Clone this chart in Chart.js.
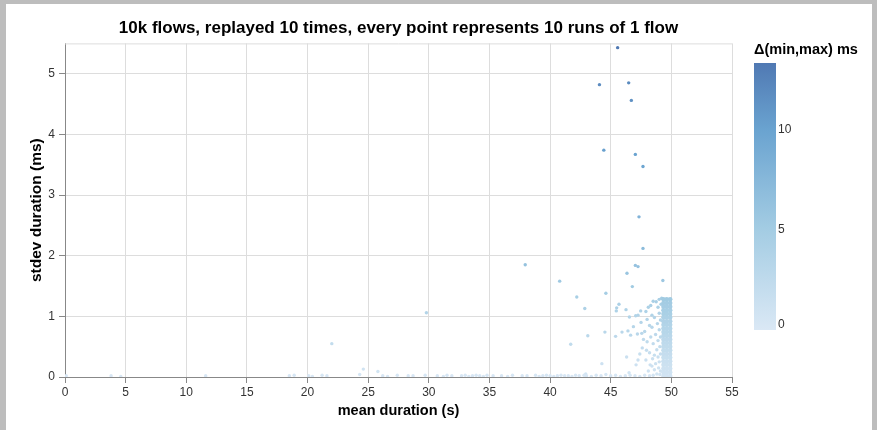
<!DOCTYPE html>
<html>
<head>
<meta charset="utf-8">
<script src="https://cdn.jsdelivr.net/npm/chart.js@4/dist/chart.umd.min.js"></script>
<style>
  html, body { margin: 0; padding: 0; background: #bdbdbd; width: 877px; height: 430px; overflow: hidden; }
  #wrap { position: absolute; left: 6px; top: 4px; width: 866px; height: 426px; background: #fff; }
</style>
</head>
<body>
<div id="wrap"><canvas id="chart" width="866" height="426"></canvas></div>
<script>
// mean duration (s), stdev duration (ms), Δ(min,max) ms  -- one entry per flow
const meanSec = [
  // outliers
  45.57, 44.07, 46.48, 46.70, 44.43, 47.03, 47.66, 47.33, 47.66, 47.03, 47.25, 46.34, 37.95, 40.79, 49.30,
  46.78, 44.60, 42.20, 42.86, 45.68, 45.49, 45.46, 46.26, 46.54, 47.06, 47.25, 47.47, 43.11, 41.70, 44.52,
  45.40, 45.93, 46.42, 46.64, 46.87, 47.20, 47.56, 44.27, 46.31, 47.25, 47.09, 46.51, 42.94, 29.80, 22.00,
  24.60, 25.80,
  // near zero
  0.1, 3.8, 4.6, 11.6, 18.5, 18.9, 20.1, 20.4, 21.2, 21.6, 24.3, 26.2, 26.6, 27.4, 28.3, 28.7, 29.7, 30.7,
  31.2, 31.5, 31.9, 32.7, 33.0, 33.3, 33.6, 33.9, 34.2, 34.5, 34.8, 35.3, 36.0, 36.5, 36.9, 37.7, 38.1, 38.8,
  39.1, 39.4, 39.7, 40.0, 40.3, 40.6, 40.9, 41.2, 41.5, 41.8, 42.1, 42.4, 42.8, 43.0, 43.4, 43.8, 44.2, 44.6,
  45.0, 45.4, 45.8, 46.2, 46.6, 47.0, 47.4, 47.8, 48.2,
  // scattered left of the cluster
  48.1, 47.9, 48.2, 47.6, 48.0, 48.3, 47.8, 48.2, 47.5, 48.0, 48.4, 47.9, 48.3, 48.5, 48.1, 47.7, 48.45, 47.4,
  48.25, 47.95,
  // cluster edge
  48.5, 48.8, 49.05, 48.6, 48.95, 49.1, 48.7, 49.0, 48.4, 48.9, 49.1, 48.6, 48.8, 49.05, 48.5, 48.9, 49.1, 48.7,
  49.0, 48.4, 48.85, 49.1, 48.6, 49.0, 48.9, 49.15, 49.0, 48.75, 49.2,
  // dense cluster
  49.35, 49.62, 49.9, 49.35, 49.62, 49.9, 49.35, 49.62, 49.9, 49.35, 49.62, 49.9, 49.35, 49.62, 49.9,
  49.35, 49.62, 49.9, 49.35, 49.62, 49.9, 49.35, 49.62, 49.9, 49.35, 49.62, 49.9, 49.35, 49.62, 49.9,
  49.35, 49.62, 49.9, 49.35, 49.62, 49.9, 49.35, 49.62, 49.9, 49.35, 49.62, 49.9, 49.35, 49.62, 49.9,
  49.35, 49.62, 49.9, 49.35, 49.62, 49.9, 49.35, 49.62, 49.9, 49.35, 49.62, 49.9, 49.35, 49.62, 49.9,
  49.35, 49.62, 49.9, 49.35, 49.62, 49.9
];
const stdevMs = [
  5.43, 4.82, 4.85, 4.56, 3.74, 3.67, 3.47, 2.64, 2.12, 1.84, 1.82, 1.71, 1.85, 1.58, 1.59,
  1.49, 1.38, 1.32, 1.13, 1.20, 1.14, 1.09, 1.11, 0.99, 1.01, 1.02, 1.09, 0.68, 0.54, 0.74,
  0.67, 0.74, 0.76, 0.69, 0.83, 0.71, 0.72, 0.22, 0.33, 0.28, 0.20, 0.07, 0.05, 1.06, 0.55,
  0.13, 0.09,
  0.02, 0.02, 0.01, 0.02, 0.02, 0.03, 0.02, 0.01, 0.03, 0.02, 0.04, 0.02, 0.01, 0.03, 0.02, 0.02, 0.03, 0.02,
  0.01, 0.03, 0.02, 0.02, 0.03, 0.01, 0.02, 0.03, 0.02, 0.01, 0.03, 0.02, 0.02, 0.01, 0.03, 0.02, 0.02, 0.03,
  0.01, 0.02, 0.03, 0.02, 0.01, 0.02, 0.03, 0.02, 0.02, 0.01, 0.03, 0.02, 0.03, 0.02, 0.01, 0.03, 0.02, 0.04,
  0.02, 0.03, 0.01, 0.02, 0.03, 0.02, 0.01, 0.03, 0.02,
  0.10, 0.28, 0.40, 0.48, 0.58, 0.66, 0.75, 0.85, 0.90, 0.95, 1.02, 1.08, 1.18, 1.25, 1.15, 0.62, 0.30, 0.38,
  0.20, 0.44,
  0.03, 0.05, 0.04, 0.12, 0.15, 0.10, 0.22, 0.25, 0.18, 0.33, 0.38, 0.36, 0.45, 0.50, 0.55, 0.60, 0.66, 0.70,
  0.78, 0.82, 0.88, 0.94, 0.98, 1.05, 1.15, 1.20, 1.28, 1.24, 1.30,
  0.02, 0.02, 0.02, 0.08, 0.08, 0.08, 0.14, 0.14, 0.14, 0.20, 0.20, 0.20, 0.26, 0.26, 0.26,
  0.32, 0.32, 0.32, 0.38, 0.38, 0.38, 0.44, 0.44, 0.44, 0.50, 0.50, 0.50, 0.56, 0.56, 0.56,
  0.62, 0.62, 0.62, 0.68, 0.68, 0.68, 0.74, 0.74, 0.74, 0.80, 0.80, 0.80, 0.86, 0.86, 0.86,
  0.92, 0.92, 0.92, 0.98, 0.98, 0.98, 1.04, 1.04, 1.04, 1.10, 1.10, 1.10, 1.16, 1.16, 1.16,
  1.22, 1.22, 1.22, 1.28, 1.28, 1.28
];
const rangeMs = [
  13.3, 11.8, 11.9, 11.3, 10.2, 10.0, 9.6, 8.0, 7.0, 6.2, 6.2, 5.9, 6.3, 5.4, 5.6,
  5.2, 4.9, 4.6, 4.1, 4.3, 4.1, 4.0, 4.0, 3.7, 3.7, 3.7, 3.9, 2.9, 2.4, 3.0,
  2.8, 3.0, 3.1, 2.9, 3.3, 3.0, 3.0, 1.2, 1.5, 1.4, 1.2, 0.8, 0.7, 3.6, 2.2,
  0.9, 0.8,
  0.3, 0.3, 0.2, 0.3, 0.3, 0.4, 0.3, 0.2, 0.4, 0.3, 0.4, 0.3, 0.2, 0.4, 0.3, 0.3, 0.4, 0.3,
  0.2, 0.4, 0.3, 0.3, 0.4, 0.2, 0.3, 0.4, 0.3, 0.2, 0.4, 0.3, 0.3, 0.2, 0.4, 0.3, 0.3, 0.4,
  0.2, 0.3, 0.4, 0.3, 0.2, 0.3, 0.4, 0.3, 0.3, 0.2, 0.4, 0.3, 0.4, 0.3, 0.2, 0.4, 0.3, 0.4,
  0.3, 0.4, 0.2, 0.3, 0.4, 0.3, 0.2, 0.4, 0.3,
  1.0, 1.4, 1.8, 2.1, 2.4, 2.6, 3.0, 3.3, 3.4, 3.6, 3.8, 4.0, 4.3, 4.5, 4.2, 2.5, 1.5, 1.7,
  1.2, 1.9,
  0.7, 0.8, 0.7, 1.0, 1.1, 1.0, 1.3, 1.4, 1.2, 1.6, 1.8, 1.7, 2.0, 2.2, 2.3, 2.5, 2.7, 2.8,
  3.1, 3.2, 3.4, 3.6, 3.7, 3.9, 4.2, 4.4, 4.6, 4.5, 4.7,
  0.7, 0.7, 0.7, 0.9, 0.9, 0.9, 1.1, 1.1, 1.1, 1.3, 1.3, 1.3, 1.5, 1.5, 1.5,
  1.7, 1.7, 1.7, 1.9, 1.9, 1.9, 2.2, 2.2, 2.2, 2.4, 2.4, 2.4, 2.6, 2.6, 2.6,
  2.8, 2.8, 2.8, 3.0, 3.0, 3.0, 3.3, 3.3, 3.3, 3.5, 3.5, 3.5, 3.7, 3.7, 3.7,
  3.9, 3.9, 3.9, 4.1, 4.1, 4.1, 4.4, 4.4, 4.4, 4.6, 4.6, 4.6, 4.8, 4.8, 4.8,
  5.0, 5.0, 5.0, 5.2, 5.2, 5.2
];
const denseCount = 66; // last entries form the packed block near 50 s
const xTicks = [0, 5, 10, 15, 20, 25, 30, 35, 40, 45, 50, 55];
const yTicks = [0, 1, 2, 3, 4, 5];
const legendTicks = [0, 5, 10];
const rangeMax = 13.3;

const colorStops = [[0, '#dae8f5'], [0.38, '#a3cce3'], [0.75, '#6aa3d0'], [1, '#5079b3']];

function hexRgb(h) {
  return [parseInt(h.slice(1, 3), 16), parseInt(h.slice(3, 5), 16), parseInt(h.slice(5, 7), 16)];
}
function colorFor(v) {
  const t = Math.max(0, Math.min(1, v / rangeMax));
  for (let i = 1; i < colorStops.length; i++) {
    if (t <= colorStops[i][0]) {
      const [t0, c0] = colorStops[i - 1];
      const [t1, c1] = colorStops[i];
      const f = (t - t0) / (t1 - t0);
      const a = hexRgb(c0), b = hexRgb(c1);
      return 'rgb(' + a.map((x, k) => Math.round(x + (b[k] - x) * f)).join(',') + ')';
    }
  }
  return colorStops[colorStops.length - 1][1];
}

const points = meanSec.map((x, i) => ({ x: x, y: stdevMs[i] }));
const colors = rangeMs.map(colorFor);
const radii = meanSec.map((_, i) => (i >= meanSec.length - denseCount ? 2.3 : 1.7));

const font = 'Liberation Sans, Arial, sans-serif';

const frameAndLegend = {
  id: 'frameAndLegend',
  beforeDatasetsDraw(chart) {
    const { ctx, chartArea } = chart;
    ctx.save();
    ctx.strokeStyle = '#dddddd';
    ctx.lineWidth = 1;
    ctx.beginPath();
    ctx.moveTo(chartArea.left, chartArea.top + 0.5);
    ctx.lineTo(chartArea.right, chartArea.top + 0.5);
    ctx.stroke();
    ctx.restore();
  },
  afterDraw(chart) {
    const ctx = chart.ctx;
    const gx = 748, gTop = 59, gBot = 326, gw = 22;
    ctx.save();
    const grad = ctx.createLinearGradient(0, gBot, 0, gTop);
    colorStops.forEach(s => grad.addColorStop(s[0], s[1]));
    ctx.fillStyle = grad;
    ctx.fillRect(gx, gTop, gw, gBot - gTop);
    ctx.fillStyle = '#000';
    ctx.font = 'bold 14.5px ' + font;
    ctx.textAlign = 'left';
    ctx.textBaseline = 'middle';
    ctx.fillText('Δ(min,max) ms', gx, 46);
    ctx.font = '12px ' + font;
    ctx.fillStyle = '#333';
    legendTicks.forEach(v => {
      const y = gBot - (v / rangeMax) * (gBot - gTop);
      ctx.textBaseline = v === 0 ? 'bottom' : 'middle';
      ctx.fillText(String(v), gx + gw + 2, v === 0 ? y + 1 : y);
    });
    ctx.restore();
  }
};

new Chart(document.getElementById('chart'), {
  type: 'scatter',
  data: {
    datasets: [{
      data: points,
      pointBackgroundColor: colors,
      pointBorderColor: colors,
      pointBorderWidth: 0,
      pointRadius: radii,
      pointHoverRadius: radii
    }]
  },
  options: {
    responsive: false,
    animation: false,
    events: [],
    layout: { padding: { left: 0, right: 140, top: 0, bottom: 0 } },
    plugins: {
      legend: { display: false },
      tooltip: { enabled: false },
      title: {
        display: true,
        fullSize: false,
        text: '10k flows, replayed 10 times, every point represents 10 runs of 1 flow',
        color: '#000',
        font: { family: font, size: 17, weight: 'bold' },
        padding: { top: 14, bottom: 5 }
      }
    },
    scales: {
      x: {
        type: 'linear',
        min: 0,
        max: 55,
        afterBuildTicks: s => { s.ticks = xTicks.map(v => ({ value: v })); },
        afterFit: s => { s.height = 53; },
        grid: { color: '#dddddd', tickColor: '#888888', tickLength: 6 },
        border: { color: '#888888' },
        ticks: { color: '#333', font: { family: font, size: 12 }, padding: 2, maxRotation: 0 },
        title: {
          display: true, text: 'mean duration (s)', color: '#000',
          font: { family: font, size: 14.5, weight: 'bold' }, padding: { top: 10, bottom: 10 }
        }
      },
      y: {
        type: 'linear',
        min: 0,
        max: 5.5,
        afterBuildTicks: s => { s.ticks = yTicks.map(v => ({ value: v })); },
        afterFit: s => { s.width = 59; },
        grid: { color: '#dddddd', tickColor: '#888888', tickLength: 6 },
        border: { color: '#888888' },
        ticks: { color: '#333', font: { family: font, size: 12 }, padding: 4 },
        title: {
          display: true, text: 'stdev duration (ms)', color: '#000',
          font: { family: font, size: 15.5, weight: 'bold' }, padding: { top: 21, bottom: 21 }
        }
      }
    }
  },
  plugins: [frameAndLegend]
});
</script>
</body>
</html>
